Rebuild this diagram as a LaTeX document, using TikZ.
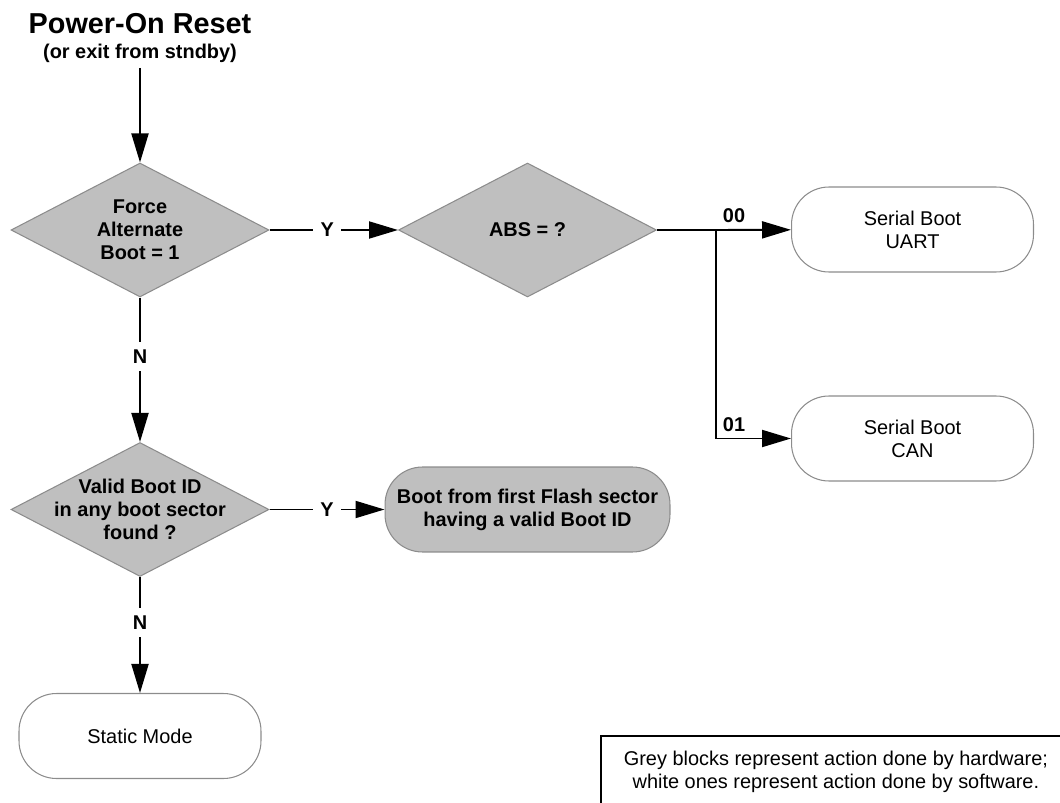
\documentclass[tikz,border=0pt]{standalone}
\usepackage{fontspec}
\setmainfont{Liberation Sans}
\usetikzlibrary{shapes.geometric,arrows.meta,positioning}

\newcommand{\blocksize}{\fontsize{11.34}{13.2}\selectfont}
\newcommand{\diamondtext}[1]{\makebox[0pt]{\parbox{5cm}{\centering #1}}}

\begin{document}
\begin{tikzpicture}[x=0.02cm,y=-0.02cm]
  % Define block, connector and label styles
  \tikzstyle{hwdecision} = [diamond, draw=black!45, fill=black!25, line width=0.6pt,
  minimum width=5.16cm, minimum height=2.68cm, inner sep=0pt, font=\bfseries\blocksize]
  \tikzstyle{swblock} = [rectangle, rounded corners=0.75cm, draw=black!45, line width=0.6pt,
  minimum width=4.84cm, minimum height=1.7cm, align=center, font=\blocksize]
  \tikzstyle{hwblock} = [swblock, fill=black!25, font=\bfseries\blocksize]
  \tikzstyle{arrow} = [line width=1.1pt, -{Triangle[length=0.58cm,width=0.34cm]}]
  \tikzstyle{answer} = [fill=white, inner sep=0.15cm, font=\bfseries\blocksize]
  \tikzstyle{branch} = [inner sep=0.12cm, font=\bfseries\blocksize]

  \useasboundingbox (0,0) rectangle (1060,803);

  \node[anchor=south, align=center, inner sep=0.1cm, font=\bfseries] (por) at (140,68)
  {{\fontsize{16.4}{19}\selectfont Power-On Reset}\\[2pt]{\blocksize (or exit from stndby)}};

  % decisions taken by hardware
  \node[hwdecision] (force) at (140,230) {\diamondtext{Force\\Alternate\\Boot = 1}};
  \node[hwdecision] (abs) at (527.5,230) {\diamondtext{ABS = ?}};
  \node[hwdecision] (valid) at (140,509.5) {\diamondtext{Valid Boot ID\\in any boot sector\\found ?}};

  % boot targets
  \node[swblock] (uart) at (912.5,229.5) {Serial Boot\\UART};
  \node[swblock] (can) at (912.5,438.5) {Serial Boot\\CAN};
  \node[hwblock, minimum width=5.7cm] (flash) at (527.5,509.5)
  {Boot from first Flash sector\\having a valid Boot ID};
  \node[swblock] (static) at (140,736) {Static Mode};

  \draw[arrow] (por) -- (force);
  \draw[arrow] (force) -- node[answer, pos=0.45] {Y} (abs);
  \draw[arrow] (force) -- node[answer, pos=0.41] {N} (valid);
  \draw[arrow] (valid) -- node[answer, pos=0.5] {Y} (flash);
  \draw[arrow] (valid) -- node[answer, pos=0.39] {N} (static);

  % ABS selects the serial boot
  \coordinate (split) at (716,230);
  \draw[line width=1.1pt] (abs) -- (split);
  \draw[arrow] (split) -- node[branch, pos=0, anchor=south west] {00} (uart);
  \draw[arrow] (split) |- node[branch, pos=0.5, anchor=south west] {01} (can);

  \node[draw, line width=1.1pt, minimum width=9.4cm, minimum height=1.42cm, align=center,
  anchor=north west, font=\blocksize] (note) at (600,735)
  {Grey blocks represent action done by hardware;\\white ones represent action done by software.};
\end{tikzpicture}
\end{document}
